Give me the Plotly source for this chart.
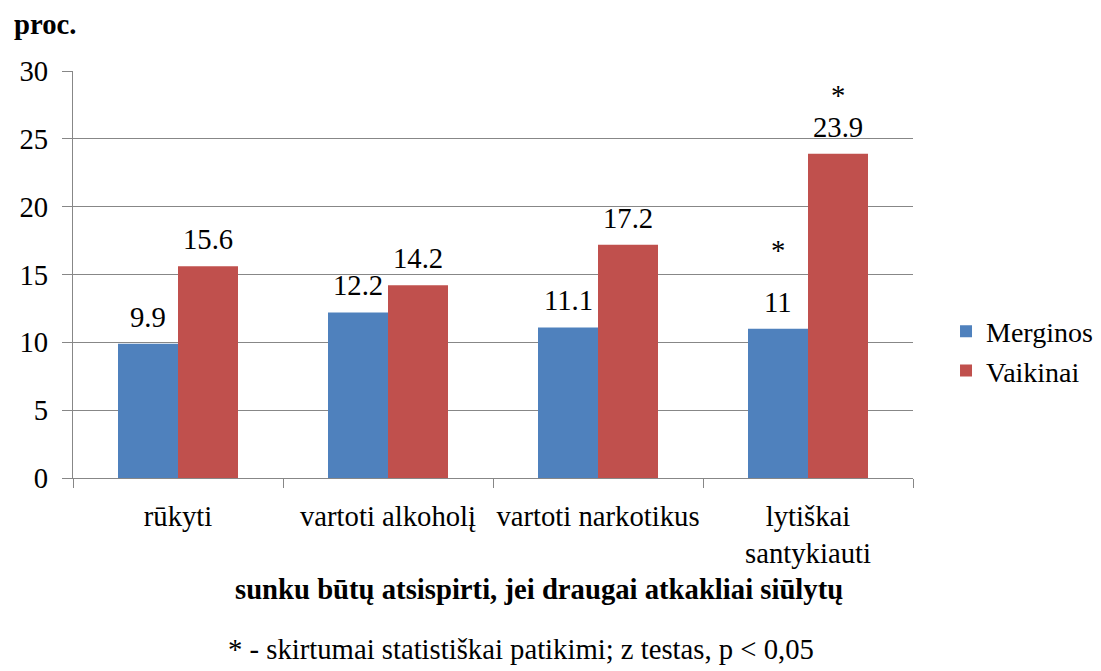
import plotly.graph_objects as go

categories = ["rūkyti", "vartoti alkoholį", "vartoti narkotikus", "lytiškai<br>santykiauti"]
merginos = [9.9, 12.2, 11.1, 11.0]
vaikinai = [15.6, 14.2, 17.2, 23.9]
y_ticks = [0, 5, 10, 15, 20, 25, 30]
# significance markers: (category index, series, y position of the asterisk)
stars = [(3, "Merginos", 16.8), (3, "Vaikinai", 28.2)]

FONT = "'Times New Roman', 'Liberation Serif', 'DejaVu Serif', serif"
BLUE = "#4F81BD"
RED = "#C0504D"
GRID = "#878787"
FS = 28.7

fig = go.Figure()
fig.add_trace(go.Bar(name="Merginos", x=categories, y=merginos, marker=dict(color=BLUE, line=dict(width=0))))
fig.add_trace(go.Bar(name="Vaikinai", x=categories, y=vaikinai, marker=dict(color=RED, line=dict(width=0))))

ann = []
for i, c in enumerate(categories):
    for vals, shift in ((merginos, -30), (vaikinai, 30)):
        v = vals[i]
        ann.append(dict(x=c, y=v, xref="x", yref="y", text=f"{v:g}", showarrow=False,
                        xanchor="center", yanchor="bottom", xshift=shift, yshift=9,
                        font=dict(family=FONT, size=FS, color="black")))
for idx, series, ys in stars:
    ann.append(dict(x=categories[idx], y=ys, xref="x", yref="y", text="*", showarrow=False,
                    xanchor="center", yanchor="middle",
                    xshift=(-30 if series == "Merginos" else 30),
                    font=dict(family=FONT, size=FS, color="black")))

ann.append(dict(x=-0.0726, y=1.071, xref="paper", yref="paper", text="<b>proc.</b>", showarrow=False,
                xanchor="left", yanchor="bottom", font=dict(family=FONT, size=FS, color="black")))
ann.append(dict(x=0.5548, y=-0.272, xref="paper", yref="paper",
                text="<b>sunku būtų atsispirti, jei draugai atkakliai siūlytų</b>", showarrow=False,
                xanchor="center", yanchor="middle", font=dict(family=FONT, size=FS, color="black")))
ann.append(dict(x=0.533, y=-0.421, xref="paper", yref="paper",
                text="* - skirtumai statistiškai patikimi; z testas, p &lt; 0,05", showarrow=False,
                xanchor="center", yanchor="middle", font=dict(family=FONT, size=FS, color="black")))

fig.update_layout(
    width=1101, height=671,
    margin=dict(l=73, r=188, t=71, b=193, autoexpand=False),
    paper_bgcolor="white", plot_bgcolor="white",
    barmode="group", bargap=0.4286, bargroupgap=0,
    font=dict(family=FONT, size=FS, color="black"),
    showlegend=True,
    legend=dict(x=1.0393, y=0.312, xanchor="left", yanchor="middle",
                font=dict(family=FONT, size=28, color="black"), bgcolor="rgba(0,0,0,0)"),
    annotations=ann,
)
fig.update_yaxes(range=[0, 30], tickvals=y_ticks, showgrid=True, gridcolor=GRID, gridwidth=1.3,
                 showline=True, linecolor=GRID, linewidth=1.3, ticks="outside", ticklen=10,
                 tickcolor=GRID, tickwidth=1.3, zeroline=False, ticklabelstandoff=8,
                 tickfont=dict(family=FONT, size=FS, color="black"))
fig.update_xaxes(showline=True, linecolor=GRID, linewidth=1.3, ticks="outside", tickson="boundaries",
                 ticklen=9, tickcolor=GRID, tickwidth=1.3, showgrid=False, ticklabelstandoff=12,
                 tickangle=0, tickfont=dict(family=FONT, size=FS, color="black"))

fig.write_html("out.html", config={"displayModeBar": False},
               post_script="document.body.style.margin='0';")
